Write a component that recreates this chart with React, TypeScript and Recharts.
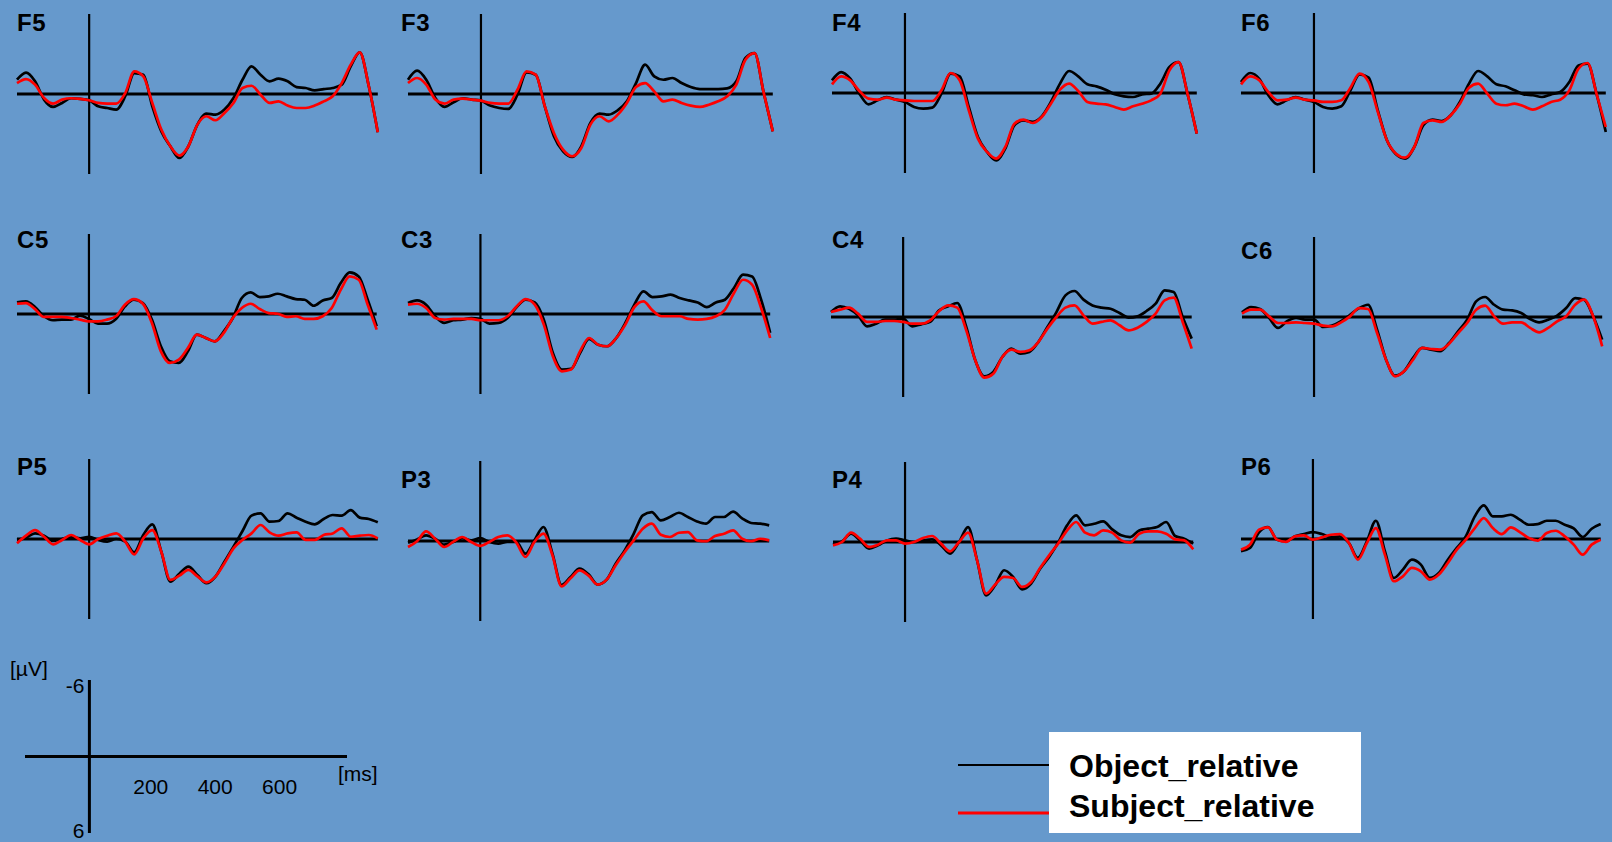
import React from 'react';
import { LineChart, Line, XAxis, YAxis, ReferenceLine } from 'recharts';

// time points in ms (shared by every channel)
const TIMES = [-200, -175, -150, -125, -100, -75, -50, -25, 0, 25, 50, 75, 100, 125, 150, 175, 200, 225, 250, 275, 300, 325, 350, 375, 400, 425, 450, 475, 500, 525, 550, 575, 600, 625, 650, 675, 700, 725, 750, 775, 800];

const SERIES_NAMES = ['Object_relative', 'Subject_relative'];

// amplitudes in µV (negative plotted upward)
const F5_OBJ = [-1.07, -1.6, -0.95, 0.42, 0.97, 0.67, 0.32, 0.37, 0.47, 0.92, 1.05, 1.17, 0.17, -1.57, -1.45, 0.92, 2.8, 3.92, 4.8, 3.92, 2.3, 1.47, 1.55, 1.17, 0.3, -1.07, -2.07, -1.45, -0.95, -1.15, -0.95, -0.52, -0.45, -0.27, -0.37, -0.45, -0.7, -2.07, -3.12, -0.6, 2.87];
const F5_SUBJ = [-0.82, -1.12, -0.7, 0.3, 0.72, 0.42, 0.32, 0.37, 0.47, 0.67, 0.72, 0.72, -0.07, -1.7, -1.32, 0.67, 2.67, 3.92, 4.62, 3.92, 2.3, 1.67, 1.97, 1.42, 0.67, -0.45, -0.62, 0.05, 0.67, 0.55, 0.87, 1.05, 1.05, 0.87, 0.55, 0.17, -0.82, -2.2, -3.12, -0.6, 2.87];
const F3_OBJ = [-1.07, -1.75, -1.07, 0.3, 0.97, 0.62, 0.32, 0.42, 0.5, 0.87, 1.05, 1.12, 0.05, -1.62, -1.45, 0.92, 3.17, 4.3, 4.72, 3.92, 2.17, 1.47, 1.55, 1.22, 0.55, -0.82, -2.2, -1.32, -1.07, -1.2, -0.82, -0.52, -0.37, -0.37, -0.37, -0.42, -0.95, -2.7, -3.07, -0.1, 2.8];
const F3_SUBJ = [-0.82, -1.2, -0.7, 0.42, 0.72, 0.42, 0.35, 0.42, 0.5, 0.67, 0.72, 0.72, -0.32, -1.7, -1.45, 0.92, 2.92, 4.17, 4.67, 4.05, 2.3, 1.67, 2.05, 1.55, 0.67, -0.52, -0.82, -0.2, 0.55, 0.42, 0.67, 0.87, 0.97, 0.8, 0.55, 0.17, -0.7, -2.57, -3.07, -0.1, 2.8];
const F4_OBJ = [-0.95, -1.57, -1.07, 0.05, 0.85, 0.55, 0.3, 0.5, 0.67, 1.05, 1.17, 1.1, 0.05, -1.45, -1.25, 1.05, 3.3, 4.42, 5.05, 4.17, 2.42, 2.05, 2.17, 1.75, 0.67, -0.7, -1.65, -1.25, -0.65, -0.5, -0.25, 0.1, 0.25, 0.3, 0.1, 0.05, -0.7, -1.95, -2.32, 0.1, 3.05];
const F4_SUBJ = [-0.65, -1.25, -0.95, -0.15, 0.42, 0.5, 0.35, 0.5, 0.55, 0.6, 0.6, 0.6, -0.2, -1.5, -0.95, 1.3, 3.42, 4.42, 4.92, 4.05, 2.3, 2.0, 2.25, 1.8, 0.8, -0.25, -0.7, -0.15, 0.67, 0.8, 0.85, 1.05, 1.25, 1.0, 0.8, 0.55, 0.05, -1.7, -2.32, 0.1, 3.05];
const F6_OBJ = [-0.82, -1.5, -1.07, 0.17, 0.85, 0.55, 0.3, 0.5, 0.67, 1.05, 1.17, 1.0, -0.2, -1.4, -1.15, 1.3, 3.55, 4.6, 4.92, 4.05, 2.42, 2.0, 2.1, 1.67, 0.67, -0.7, -1.65, -1.25, -0.65, -0.5, -0.2, 0.1, 0.17, 0.3, 0.1, -0.07, -0.82, -2.07, -2.2, 0.1, 2.92];
const F6_SUBJ = [-0.65, -1.25, -0.95, -0.07, 0.55, 0.5, 0.35, 0.5, 0.55, 0.67, 0.67, 0.55, -0.4, -1.45, -0.82, 1.42, 3.55, 4.55, 4.85, 4.05, 2.25, 2.05, 2.17, 1.67, 0.8, -0.4, -0.7, 0.05, 0.8, 0.92, 0.8, 1.0, 1.25, 1.0, 0.67, 0.5, -0.2, -1.82, -2.25, 0.1, 2.55];
const C5_OBJ = [-0.87, -0.95, -0.52, 0.17, 0.47, 0.42, 0.42, 0.12, 0.37, 0.72, 0.72, 0.37, -0.57, -1.07, -0.82, 0.42, 2.42, 3.55, 3.67, 2.8, 1.55, 1.8, 2.05, 1.3, 0.3, -1.2, -1.62, -1.27, -1.32, -1.52, -1.32, -1.12, -1.07, -0.62, -1.02, -1.2, -2.32, -3.12, -2.82, -1.07, 0.92];
const C5_SUBJ = [-0.77, -0.82, -0.37, 0.22, 0.22, 0.22, 0.3, 0.42, 0.55, 0.55, 0.42, 0.17, -0.7, -1.12, -0.77, 0.67, 2.8, 3.67, 3.42, 2.55, 1.55, 1.8, 2.05, 1.42, 0.3, -0.45, -0.77, -0.37, -0.07, -0.02, 0.22, 0.17, 0.37, 0.37, 0.17, -0.45, -1.82, -2.82, -2.57, -0.7, 1.17];
const C3_OBJ = [-0.82, -1.02, -0.7, 0.17, 0.67, 0.47, 0.42, 0.3, 0.37, 0.72, 0.67, 0.3, -0.52, -1.07, -0.87, 0.42, 2.92, 4.17, 4.12, 2.92, 1.87, 2.3, 2.42, 1.8, 0.67, -0.7, -1.7, -1.27, -1.32, -1.45, -1.2, -1.02, -0.87, -0.52, -0.87, -1.07, -1.95, -2.95, -2.82, -1.07, 1.42];
const C3_SUBJ = [-0.7, -0.77, -0.45, 0.3, 0.42, 0.37, 0.37, 0.37, 0.47, 0.47, 0.47, 0.17, -0.57, -1.12, -0.7, 0.8, 3.17, 4.3, 4.17, 2.8, 1.8, 2.3, 2.42, 1.8, 0.8, -0.52, -0.95, -0.27, 0.17, 0.17, 0.17, 0.37, 0.42, 0.37, 0.17, -0.32, -1.57, -2.57, -2.2, -0.45, 1.8];
const C4_OBJ = [-0.37, -0.8, -0.62, -0.12, 0.7, 0.5, 0.2, 0.2, 0.12, 0.7, 0.55, 0.37, -0.5, -0.8, -1.05, 0.75, 3.25, 4.45, 4.12, 3.0, 2.37, 2.75, 2.62, 1.87, 0.75, -0.37, -1.62, -1.95, -1.3, -0.87, -0.7, -0.62, -0.3, 0.05, -0.05, -0.45, -1.0, -2.0, -1.87, 0.0, 1.62];
const C4_SUBJ = [-0.37, -0.55, -0.7, -0.25, 0.37, 0.37, 0.3, 0.3, 0.37, 0.5, 0.5, 0.25, -0.45, -0.87, -0.7, 1.0, 3.25, 4.55, 4.25, 3.0, 2.45, 2.62, 2.5, 1.87, 0.87, 0.0, -0.7, -0.87, -0.12, 0.5, 0.37, 0.25, 0.62, 1.0, 0.8, 0.37, -0.25, -1.25, -1.45, 0.37, 2.37];
const C6_OBJ = [-0.35, -0.75, -0.6, 0.07, 0.82, 0.32, 0.07, 0.2, 0.2, 0.75, 0.65, 0.32, -0.17, -0.67, -0.92, 0.95, 3.2, 4.4, 4.07, 3.07, 2.32, 2.45, 2.57, 1.95, 1.07, 0.2, -1.17, -1.5, -0.92, -0.55, -0.5, -0.3, 0.15, 0.4, 0.2, -0.1, -0.67, -1.42, -1.3, -0.05, 1.7];
const C6_SUBJ = [-0.25, -0.55, -0.55, -0.05, 0.45, 0.45, 0.4, 0.45, 0.5, 0.65, 0.7, 0.4, -0.05, -0.67, -0.6, 1.2, 3.2, 4.45, 4.07, 3.2, 2.32, 2.4, 2.45, 2.0, 1.2, 0.45, -0.55, -0.85, -0.05, 0.5, 0.4, 0.4, 0.82, 1.15, 0.82, 0.32, -0.05, -0.92, -1.3, -0.05, 2.2];
const P5_OBJ = [0.07, -0.1, -0.42, -0.25, 0.15, 0.0, -0.17, -0.05, -0.17, 0.07, 0.2, 0.0, 0.2, 1.0, -0.3, -1.1, 0.95, 3.2, 2.6, 2.07, 2.7, 3.32, 2.82, 1.7, 0.57, -0.6, -1.75, -1.92, -1.3, -1.35, -1.92, -1.6, -1.3, -1.1, -1.5, -1.8, -1.75, -2.17, -1.6, -1.5, -1.25];
const P5_SUBJ = [0.32, -0.25, -0.67, -0.17, 0.4, 0.07, -0.3, 0.07, 0.4, 0.0, -0.25, -0.42, 0.2, 1.15, -0.05, -0.67, 0.95, 3.07, 2.75, 2.32, 2.8, 3.25, 2.82, 1.82, 0.7, 0.07, -0.42, -1.05, -0.5, -0.25, -0.42, -0.5, 0.07, 0.07, -0.3, -0.42, -0.8, -0.17, -0.25, -0.3, -0.05];
const P3_OBJ = [0.12, -0.12, -0.42, -0.17, 0.27, 0.07, -0.22, -0.05, -0.22, 0.07, 0.2, 0.07, 0.07, 0.95, -0.05, -1.05, 0.95, 3.3, 2.7, 2.07, 2.5, 3.27, 2.9, 1.7, 0.7, -0.55, -1.92, -2.17, -1.55, -1.8, -2.12, -1.8, -1.47, -1.3, -1.8, -1.8, -2.2, -1.7, -1.35, -1.3, -1.17];
const P3_SUBJ = [0.45, 0.02, -0.72, -0.17, 0.45, 0.07, -0.3, 0.07, 0.37, 0.07, -0.3, -0.42, 0.12, 1.2, 0.07, -0.55, 1.07, 3.4, 2.8, 2.2, 2.6, 3.27, 2.9, 1.82, 0.82, -0.05, -0.92, -1.3, -0.47, -0.3, -0.62, -0.67, -0.05, 0.02, -0.37, -0.55, -0.8, -0.17, 0.02, -0.17, -0.05];
const P4_OBJ = [0.2, -0.05, -0.62, -0.12, 0.5, 0.25, -0.12, -0.25, -0.12, 0.0, -0.12, -0.2, 0.25, 0.87, 0.0, -1.12, 1.37, 4.0, 3.25, 2.12, 2.62, 3.55, 3.12, 2.0, 1.12, 0.05, -1.25, -2.0, -1.25, -1.37, -1.55, -0.95, -0.5, -0.37, -0.87, -1.0, -1.12, -1.5, -0.45, -0.25, 0.12];
const P4_SUBJ = [0.25, 0.0, -0.7, -0.25, 0.37, 0.2, -0.12, -0.12, 0.12, 0.0, -0.3, -0.45, 0.12, 0.7, 0.0, -0.7, 1.37, 3.87, 3.2, 2.62, 2.7, 3.37, 3.0, 1.95, 1.0, 0.12, -0.87, -1.5, -0.7, -0.5, -0.87, -0.7, -0.12, 0.05, -0.62, -0.8, -0.8, -0.62, -0.2, -0.12, 0.55];
const P6_OBJ = [0.92, 0.67, -0.5, -0.9, 0.05, 0.17, -0.2, -0.37, -0.52, -0.37, -0.12, -0.2, 0.3, 1.42, 0.17, -1.37, 0.92, 2.92, 2.3, 1.55, 1.92, 2.92, 2.55, 1.55, 0.67, -0.2, -1.7, -2.52, -1.7, -1.7, -1.82, -1.45, -1.07, -1.12, -1.37, -1.37, -1.07, -0.8, -0.15, -0.77, -1.12];
const P6_SUBJ = [0.8, 0.42, -0.7, -0.87, 0.05, 0.22, -0.2, -0.27, 0.05, -0.12, -0.32, -0.37, 0.3, 1.55, 0.3, -0.82, 1.17, 3.17, 2.8, 2.17, 2.42, 3.05, 2.67, 1.8, 0.8, 0.05, -0.82, -1.57, -0.82, -0.37, -0.87, -0.52, -0.07, 0.12, -0.45, -0.62, -0.2, 0.42, 1.17, 0.42, 0.05];

// scale panel: time extent of its baseline and its tick labels
const SCALE_RANGE = [-200, 800];
const SCALE_X_TICKS = [200, 400, 600];
const SCALE_Y_TICKS = [-6, 6];

const FONT = '"Liberation Sans", Arial, Helvetica, sans-serif';
const BG = '#6699cc';
const PAD = 4;
const HALF = 80; // px from zero line to ±6 µV
const LINE_W = 2.7;

// placement of each channel (page px): left/right of plot, y of zero line, label baseline
const PANELS = [
  { name: 'F5', obj: F5_OBJ, subj: F5_SUBJ, left: 16.8, right: 377.6, zero: 94.3, lx: 17, ly: 31 },
  { name: 'F3', obj: F3_OBJ, subj: F3_SUBJ, left: 408.2, right: 773, zero: 94.3, lx: 401, ly: 31 },
  { name: 'F4', obj: F4_OBJ, subj: F4_SUBJ, left: 832.4, right: 1197.2, zero: 92.7, lx: 832, ly: 31 },
  { name: 'F6', obj: F6_OBJ, subj: F6_SUBJ, left: 1240.6, right: 1605.4, zero: 92.7, lx: 1241, ly: 31 },
  { name: 'C5', obj: C5_OBJ, subj: C5_SUBJ, left: 16.8, right: 376.5, zero: 314.3, lx: 17, ly: 247.5 },
  { name: 'C3', obj: C3_OBJ, subj: C3_SUBJ, left: 408.2, right: 770.4, zero: 314.3, lx: 401, ly: 247.5 },
  { name: 'C4', obj: C4_OBJ, subj: C4_SUBJ, left: 831.4, right: 1192.1, zero: 316.7, lx: 832, ly: 247.5 },
  { name: 'C6', obj: C6_OBJ, subj: C6_SUBJ, left: 1241.6, right: 1601.8, zero: 317.3, lx: 1241, ly: 258.5 },
  { name: 'P5', obj: P5_OBJ, subj: P5_SUBJ, left: 16.8, right: 377.6, zero: 539, lx: 17, ly: 474.5 },
  { name: 'P3', obj: P3_OBJ, subj: P3_SUBJ, left: 408.2, right: 769.4, zero: 540.7, lx: 401, ly: 487.5 },
  { name: 'P4', obj: P4_OBJ, subj: P4_SUBJ, left: 833.4, right: 1193.6, zero: 541.7, lx: 832, ly: 487.5 },
  { name: 'P6', obj: P6_OBJ, subj: P6_SUBJ, left: 1240.6, right: 1600.3, zero: 539.3, lx: 1241, ly: 474.5 },
];

function Panel({ p }: { p: (typeof PANELS)[number] }) {
  const w = p.right - p.left;
  const rows = TIMES.map((t, i) => ({ t, obj: p.obj[i], subj: p.subj[i] }));
  return (
    <div style={{ position: 'absolute', left: p.left - PAD, top: p.zero - HALF - PAD }}>
      <LineChart
        width={w + 2 * PAD}
        height={2 * HALF + 2 * PAD}
        data={rows}
        margin={{ top: PAD, right: PAD, bottom: PAD, left: PAD }}
      >
        <XAxis type="number" dataKey="t" domain={[-200, 800]} hide />
        <YAxis type="number" domain={[-6, 6]} reversed hide />
        <ReferenceLine x={0} stroke="#000" strokeWidth={2.2} />
        <ReferenceLine y={0} stroke="#000" strokeWidth={3} />
        <Line
          dataKey="obj"
          name={SERIES_NAMES[0]}
          type="monotone"
          stroke="#000000"
          strokeWidth={LINE_W}
          dot={false}
          isAnimationActive={false}
        />
        <Line
          dataKey="subj"
          name={SERIES_NAMES[1]}
          type="monotone"
          stroke="#ff0000"
          strokeWidth={LINE_W}
          dot={false}
          isAnimationActive={false}
        />
      </LineChart>
    </div>
  );
}

// scale reference in the lower left corner
const SC = { left: 25, right: 347, top: 680, bottom: 833 };
const SC_TOP_M = 16;
const SC_BOT_M = 12;

function ScaleAxes() {
  const w = SC.right - SC.left;
  const h = SC.bottom - SC.top;
  const zeroX = PAD + (200 / 1000) * w;
  const zeroY = SC_TOP_M + h / 2;
  const rows = SCALE_RANGE.map((t) => ({ t, base: 0 }));
  return (
    <div style={{ position: 'absolute', left: SC.left - PAD, top: SC.top - SC_TOP_M }}>
      <LineChart
        width={w + 2 * PAD}
        height={h + SC_TOP_M + SC_BOT_M}
        data={rows}
        margin={{ top: SC_TOP_M, right: PAD, bottom: SC_BOT_M, left: PAD }}
      >
        <XAxis type="number" dataKey="t" domain={[-200, 800]} ticks={SCALE_X_TICKS} interval={0} hide />
        <YAxis type="number" domain={[-6, 6]} reversed hide />
        <ReferenceLine x={0} stroke="#000" strokeWidth={3} />
        <Line
          dataKey="base"
          type="linear"
          stroke="#000"
          strokeWidth={3}
          dot={false}
          activeDot={false}
          isAnimationActive={false}
        />
        {SCALE_X_TICKS.map((t) => (
          <ReferenceLine
            key={t}
            x={t}
            stroke="none"
            label={(props: any) => (
              <text
                x={props.viewBox.x - 3}
                y={zeroY + 37}
                textAnchor="middle"
                fontSize={21}
                fontFamily={FONT}
                fill="#000"
              >
                {t}
              </text>
            )}
          />
        ))}
        {SCALE_Y_TICKS.map((v) => (
          <ReferenceLine
            key={v}
            y={v}
            stroke="none"
            label={(props: any) => (
              <text
                x={zeroX - 5}
                y={props.viewBox.y + (v < 0 ? 12.5 : 4.5)}
                textAnchor="end"
                fontSize={21}
                fontFamily={FONT}
                fill="#000"
              >
                {v}
              </text>
            )}
          />
        ))}
      </LineChart>
    </div>
  );
}

export default function App() {
  return (
    <div
      style={{
        position: 'absolute',
        left: 0,
        top: 0,
        width: 1612,
        height: 842,
        background: BG,
        overflow: 'hidden',
        fontFamily: FONT,
      }}
    >
      {PANELS.map((p) => (
        <Panel key={p.name} p={p} />
      ))}
      <ScaleAxes />
      <svg
        width={1612}
        height={842}
        style={{ position: 'absolute', left: 0, top: 0, pointerEvents: 'none' }}
      >
        {PANELS.map((p) => (
          <text key={p.name} x={p.lx} y={p.ly} fontSize={24} fontWeight="bold" fontFamily={FONT} fill="#000" letterSpacing={0.6}>
            {p.name}
          </text>
        ))}
        <text x={10} y={675.5} fontSize={21} fontFamily={FONT} fill="#000">[µV]</text>
        <text x={338} y={780.5} fontSize={21} fontFamily={FONT} fill="#000">[ms]</text>

        {/* legend */}
        <rect x={1049} y={732} width={312} height={101} fill="#ffffff" />
        <line x1={958} x2={1049} y1={765} y2={765} stroke="#000000" strokeWidth={2} />
        <line x1={958} x2={1049} y1={813} y2={813} stroke="#ff0000" strokeWidth={3} />
        <text x={1069} y={777} fontSize={32} fontWeight="bold" fontFamily={FONT} fill="#000">
          {SERIES_NAMES[0]}
        </text>
        <text x={1069} y={817} fontSize={32} fontWeight="bold" fontFamily={FONT} fill="#000">
          {SERIES_NAMES[1]}
        </text>
      </svg>
    </div>
  );
}
